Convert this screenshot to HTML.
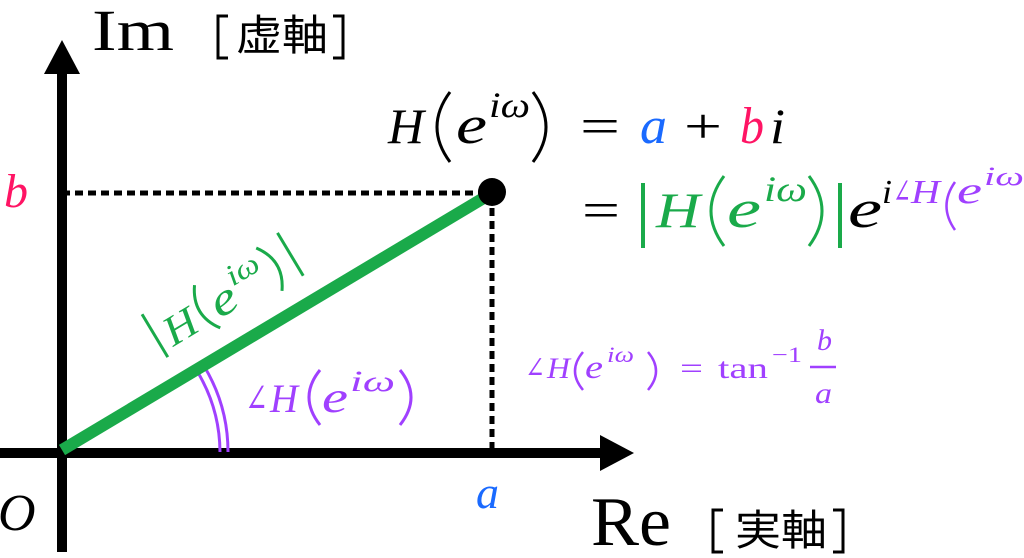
<!DOCTYPE html>
<html><head><meta charset="utf-8"><style>
body{margin:0;background:#fff;}
svg{display:block;}
text{font-family:"Liberation Serif","DejaVu Serif",serif;}
.i{font-style:italic;}
.c{font-family:"Liberation Sans","Noto Sans CJK JP",sans-serif;}
</style></head><body>
<svg width="1024" height="558" viewBox="0 0 1024 558">
<line x1="62" y1="193" x2="490" y2="193" stroke="#000" stroke-width="5" stroke-dasharray="8,5"/>
<line x1="492" y1="195" x2="492" y2="450" stroke="#000" stroke-width="5" stroke-dasharray="8,5"/>
<line x1="62" y1="70" x2="62" y2="552" stroke="#000" stroke-width="10"/>
<polygon points="62,40 44,74 80,74" fill="#000"/>
<line x1="0" y1="453" x2="604" y2="453" stroke="#000" stroke-width="10"/>
<polygon points="634,453 600,435 600,471" fill="#000"/>
<path d="M220,452 A158,158 0 0 0 197,371" fill="none" stroke="#a040ff" stroke-width="3"/>
<path d="M228,452 A166,166 0 0 0 204,366" fill="none" stroke="#a040ff" stroke-width="3"/>
<line x1="62" y1="450" x2="492" y2="193" stroke="#1aaa4a" stroke-width="12"/>
<circle cx="492" cy="192" r="14" fill="#000"/>
<text x="92" y="50" font-size="58" textLength="82" lengthAdjust="spacingAndGlyphs">Im</text>
<polyline points="228,16 218,16 218,58 228,58" fill="none" stroke="#000" stroke-width="3"/>
<text x="236" y="50" font-size="42" class="c" textLength="92" lengthAdjust="spacingAndGlyphs">虚軸</text>
<polyline points="333,16 343,16 343,58 333,58" fill="none" stroke="#000" stroke-width="3"/>
<text x="591" y="545" font-size="70" textLength="80" lengthAdjust="spacingAndGlyphs">Re</text>
<polyline points="723,510 713,510 713,552 723,552" fill="none" stroke="#000" stroke-width="3"/>
<text x="735" y="545" font-size="42" class="c" textLength="92" lengthAdjust="spacingAndGlyphs">実軸</text>
<polyline points="833,510 843,510 843,552 833,552" fill="none" stroke="#000" stroke-width="3"/>
<text x="4" y="207" font-size="48" class="i" fill="#ff1464">b</text>
<text x="-2" y="530" font-size="52" class="i">O</text>
<text x="476" y="508" font-size="46" class="i" fill="#1a6aff">a</text>
<!-- line 1 -->
<g font-size="50" lengthAdjust="spacingAndGlyphs">
<text x="388" y="143" class="i" textLength="36" lengthAdjust="spacingAndGlyphs">H</text>
<path d="M450,92 Q424,127 450,162" fill="none" stroke="#000" stroke-width="3"/>
<text x="456" y="143" class="i" font-size="54" textLength="31" lengthAdjust="spacingAndGlyphs">e</text>
<text x="489" y="117" class="i" font-size="36" textLength="41" lengthAdjust="spacingAndGlyphs">iω</text>
<path d="M533,92 Q559,127 533,162" fill="none" stroke="#000" stroke-width="3"/>
<text x="580" y="143" textLength="40" lengthAdjust="spacingAndGlyphs">=</text>
<text x="640" y="143" class="i" font-size="52" fill="#1a6aff" textLength="27" lengthAdjust="spacingAndGlyphs">a</text>
<text x="684" y="143" textLength="38" lengthAdjust="spacingAndGlyphs">+</text>
<text x="740" y="143" class="i" font-size="52" fill="#ff1464" textLength="24" lengthAdjust="spacingAndGlyphs">b</text>
<text x="770" y="143" class="i" textLength="15" lengthAdjust="spacingAndGlyphs">i</text>
</g>
<!-- line 2 -->
<g font-size="50">
<text x="582" y="227" textLength="38" lengthAdjust="spacingAndGlyphs">=</text>
<line x1="643" y1="183" x2="643" y2="248" stroke="#1aaa4a" stroke-width="4"/>
<text x="656" y="227" class="i" fill="#1aaa4a" textLength="44" lengthAdjust="spacingAndGlyphs">H</text>
<path d="M724,176 Q698,211 724,246" fill="none" stroke="#1aaa4a" stroke-width="3"/>
<text x="727" y="227" class="i" font-size="54" fill="#1aaa4a" textLength="34" lengthAdjust="spacingAndGlyphs">e</text>
<text x="764" y="201" class="i" font-size="36" fill="#1aaa4a" textLength="43" lengthAdjust="spacingAndGlyphs">iω</text>
<path d="M809,176 Q835,211 809,246" fill="none" stroke="#1aaa4a" stroke-width="3"/>
<line x1="840" y1="183" x2="840" y2="248" stroke="#1aaa4a" stroke-width="4"/>
<text x="848" y="227" class="i" font-size="54" textLength="34" lengthAdjust="spacingAndGlyphs">e</text>
<text x="882" y="203" class="i" font-size="34" textLength="10" lengthAdjust="spacingAndGlyphs">i</text>
<g fill="#a040ff" font-size="34">
<text x="893" y="203" textLength="18" lengthAdjust="spacingAndGlyphs">∠</text>
<text x="911" y="203" class="i" textLength="29" lengthAdjust="spacingAndGlyphs">H</text>
<path d="M955,182 Q938,206 955,230" fill="none" stroke="#a040ff" stroke-width="2.5"/>
<text x="957" y="203" class="i" font-size="38" textLength="25" lengthAdjust="spacingAndGlyphs">e</text>
<text x="984" y="185" class="i" font-size="26" textLength="40" lengthAdjust="spacingAndGlyphs">iω</text>
</g>
</g>
<!-- green rotated label -->
<g fill="#1aaa4a" font-size="42" transform="translate(163,353) rotate(-31)">
<line x1="2" y1="6" x2="2" y2="-44" stroke="#1aaa4a" stroke-width="3"/>
<text x="12" y="0" class="i" textLength="33" lengthAdjust="spacingAndGlyphs">H</text>
<path d="M62,-42 Q44,-17 62,8" fill="none" stroke="#1aaa4a" stroke-width="3"/>
<text x="66" y="0" class="i" font-size="46" textLength="26" lengthAdjust="spacingAndGlyphs">e</text>
<text x="94" y="-21" class="i" font-size="30" textLength="34" lengthAdjust="spacingAndGlyphs">iω</text>
<path d="M134,-42 Q152,-17 134,8" fill="none" stroke="#1aaa4a" stroke-width="3"/>
<line x1="160" y1="6" x2="160" y2="-44" stroke="#1aaa4a" stroke-width="3"/>
</g>
<!-- angle label -->
<g fill="#a040ff" font-size="40">
<text x="245" y="412" textLength="23" lengthAdjust="spacingAndGlyphs">∠</text>
<text x="270" y="412" class="i" textLength="28" lengthAdjust="spacingAndGlyphs">H</text>
<path d="M320,370 Q298,397 320,425" fill="none" stroke="#a040ff" stroke-width="3"/>
<text x="322" y="412" class="i" font-size="44" textLength="26" lengthAdjust="spacingAndGlyphs">e</text>
<text x="350" y="391" class="i" font-size="30" textLength="45" lengthAdjust="spacingAndGlyphs">iω</text>
<path d="M400,370 Q422,397 400,425" fill="none" stroke="#a040ff" stroke-width="3"/>
</g>
<!-- tan label -->
<g fill="#a040ff" font-size="30">
<text x="525" y="378" textLength="20" lengthAdjust="spacingAndGlyphs">∠</text>
<text x="547" y="378" class="i" textLength="23" lengthAdjust="spacingAndGlyphs">H</text>
<path d="M583,352 Q567,371 583,390" fill="none" stroke="#a040ff" stroke-width="2.5"/>
<text x="585" y="378" class="i" font-size="33" textLength="18" lengthAdjust="spacingAndGlyphs">e</text>
<text x="607" y="362" class="i" font-size="22" textLength="27" lengthAdjust="spacingAndGlyphs">iω</text>
<path d="M648,352 Q664,371 648,390" fill="none" stroke="#a040ff" stroke-width="2.5"/>
<text x="680" y="378" textLength="23" lengthAdjust="spacingAndGlyphs">=</text>
<text x="718" y="378" textLength="50" lengthAdjust="spacingAndGlyphs">tan</text>
<text x="772" y="362" font-size="22" textLength="30" lengthAdjust="spacingAndGlyphs">−1</text>
<text x="817" y="350" class="i" textLength="15" lengthAdjust="spacingAndGlyphs">b</text>
<text x="815" y="403" class="i" textLength="17" lengthAdjust="spacingAndGlyphs">a</text>
</g>
<line x1="810" y1="367" x2="836" y2="367" stroke="#a040ff" stroke-width="2.5"/>
</svg>
</body></html>
